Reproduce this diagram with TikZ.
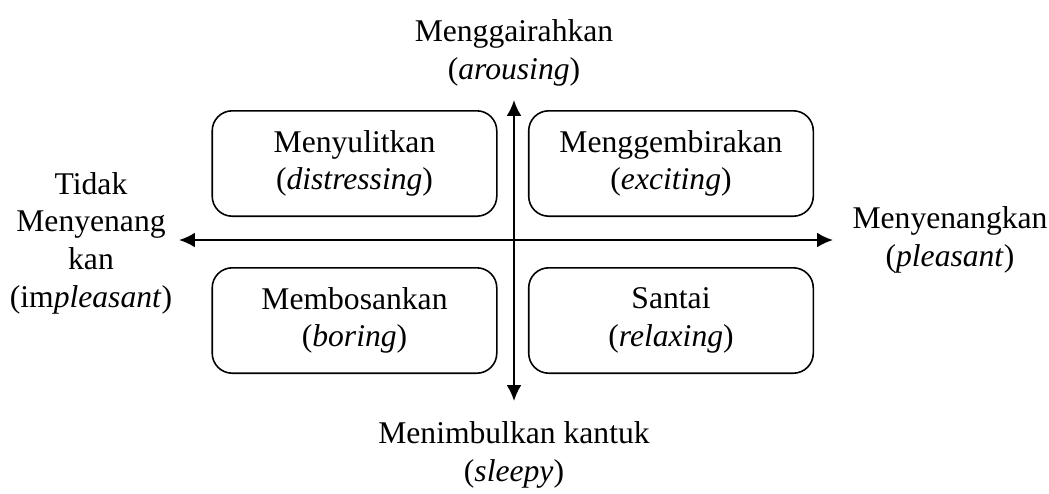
\documentclass[tikz,border=0pt]{standalone}
\usepackage{fontspec}
\setmainfont{Liberation Serif}
\usepackage{tikz}
\usetikzlibrary{arrows.meta}

\tikzset{
    kotak/.style={draw, line width=0.6pt, rounded corners=7.6pt, minimum width=108pt, minimum height=40pt, align=center},
    label/.style={align=center},
    sumbu/.style={line width=0.8pt, {Latex[length=6pt,width=5.6pt]}-{Latex[length=6pt,width=5.6pt]}}
}

\begin{document}
\begin{tikzpicture}[x=0.3795pt, y=-0.3795pt, font=\fontsize{12}{14.3}\selectfont]
        \useasboundingbox (0,0) rectangle (1049,493);

        % ujung sumbu
        \coordinate (N) at (514,100);
        \coordinate (S) at (514,401);
        \coordinate (W) at (179,240);
        \coordinate (E) at (833,240);

        % kuadran
        \node[kotak] (TL) at (354.5,163.5) {Menyulitkan\\(\textit{distressing})};
        \node[kotak] (TR) at (671,163.5) {Menggembirakan\\(\textit{exciting})};
        \node[kotak] (BL) at (354.5,320.5) {Membosankan\\(\textit{boring})};
        \node[kotak] (BR) at (671,320.5) {Santai\\(\textit{relaxing})};

        % label sumbu
        \node[label] (up) at (514,53) {Menggairahkan\\(\textit{arousing})};
        \node[label] (down) at (514,455) {Menimbulkan kantuk\\(\textit{sleepy})};
        \node[label] (lt) at (91,243) {Tidak\\Menyenang\\kan\\(im\textit{pleasant})};
        \node[label] (rt) at (950,240) {Menyenangkan\\(\textit{pleasant})};

        % sumbu
        \draw[sumbu] (W) -- (E);
        \draw[sumbu] (S) -- (N);
    \end{tikzpicture}
\end{document}
